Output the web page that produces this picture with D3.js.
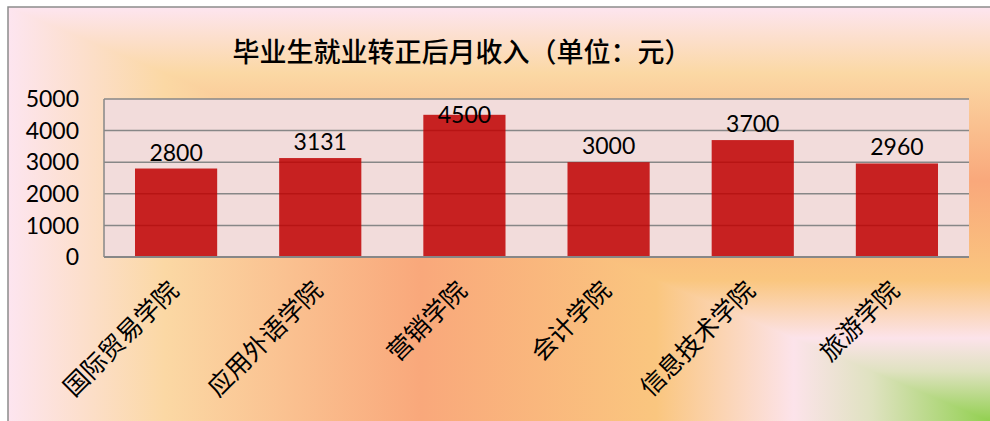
<!DOCTYPE html>
<html>
<head>
<meta charset="utf-8">
<script src="https://cdn.jsdelivr.net/npm/d3@7"></script>
<style>
  body { margin: 0; background: #fff; }
  svg { display: block; }
</style>
</head>
<body>
<svg id="chart" width="990" height="421"></svg>
<script>
// data
var title = "毕业生就业转正后月收入（单位：元）";
var colleges = ["国际贸易学院", "应用外语学院", "营销学院", "会计学院", "信息技术学院", "旅游学院"];
var income = [2800, 3131, 4500, 3000, 3700, 2960];
var yTicks = [0, 1000, 2000, 3000, 4000, 5000];

var width = 990, height = 421;
var svg = d3.select("#chart");
var defs = svg.append("defs");

// frame background: a "from corner" gradient, colour follows min(x/W, y/H)
var frame = { x: 8, y: 7, w: width - 8, h: height - 7 };
var stops = [
  [0, "#fde5f0"], [0.16, "#fbd8a4"], [0.42, "#f9a87b"], [0.66, "#fac67f"],
  [0.8, "#fce3ea"], [0.88, "#dfe2c0"], [1, "#92d050"]
];
function gradient(id, x2, y2) {
  var g = defs.append("linearGradient").attr("id", id)
    .attr("gradientUnits", "userSpaceOnUse")
    .attr("x1", frame.x).attr("y1", frame.y).attr("x2", x2).attr("y2", y2);
  stops.forEach(function (s) {
    g.append("stop").attr("offset", s[0]).attr("stop-color", s[1]);
  });
}
gradient("gx", frame.x + frame.w, frame.y);
gradient("gy", frame.x, frame.y + frame.h);

svg.append("rect").attr("x", frame.x).attr("y", frame.y)
  .attr("width", frame.w).attr("height", frame.h).attr("fill", "url(#gx)");
svg.append("polygon")
  .attr("points", [[frame.x, frame.y], [frame.x + frame.w, frame.y], [frame.x + frame.w, frame.y + frame.h]].join(" "))
  .attr("fill", "url(#gy)");

// frame border (top and left visible)
svg.append("path")
  .attr("d", "M" + frame.x + "," + height + "V" + frame.y + "H" + width)
  .attr("fill", "none").attr("stroke", "#8c8c8c").attr("stroke-width", 1.5);

// title
svg.append("text")
  .attr("x", 462).attr("y", 62)
  .attr("text-anchor", "middle")
  .style("font-family", "'Noto Sans CJK SC', sans-serif")
  .style("font-size", "27px").style("font-weight", 500)
  .attr("fill", "#000")
  .text(title);

// plot area
var plot = { left: 104, right: 969, top: 99, bottom: 257 };
var x = d3.scaleBand().domain(colleges).range([plot.left, plot.right])
  .paddingInner(0.43).paddingOuter(0.215);
var y = d3.scaleLinear().domain([0, 5000]).range([plot.bottom, plot.top]);

svg.append("rect").attr("x", plot.left).attr("y", plot.top)
  .attr("width", plot.right - plot.left).attr("height", plot.bottom - plot.top)
  .attr("fill", "#f2dcdb");

// gridlines
svg.append("g").selectAll("line").data(yTicks.slice(1)).enter().append("line")
  .attr("x1", plot.left).attr("x2", plot.right)
  .attr("y1", function (d) { return y(d); }).attr("y2", function (d) { return y(d); })
  .attr("stroke", "#878787").attr("stroke-width", 1.5);

// bars (slightly transparent, grid shows through)
svg.append("g").selectAll("rect").data(income).enter().append("rect")
  .attr("x", function (d, i) { return x(colleges[i]); })
  .attr("width", x.bandwidth())
  .attr("y", function (d) { return y(d); })
  .attr("height", function (d) { return y(0) - y(d); })
  .attr("fill", "#c00000").attr("fill-opacity", 0.85);

// axis lines
svg.append("line").attr("x1", plot.left).attr("x2", plot.left)
  .attr("y1", plot.top).attr("y2", plot.bottom)
  .attr("stroke", "#878787").attr("stroke-width", 1.5);
svg.append("line").attr("x1", plot.left).attr("x2", plot.right)
  .attr("y1", plot.bottom).attr("y2", plot.bottom)
  .attr("stroke", "#878787").attr("stroke-width", 2);

// y tick labels
svg.append("g").selectAll("text").data(yTicks).enter().append("text")
  .attr("x", 79).attr("y", function (d) { return y(d); })
  .attr("dy", "0.36em").attr("text-anchor", "end")
  .style("font-family", "Lato, 'Open Sans', sans-serif").style("font-size", "23px")
  .attr("fill", "#000")
  .text(function (d) { return d; });

// value labels, kept inside the plot area
svg.append("g").selectAll("text").data(income).enter().append("text")
  .attr("x", function (d, i) { return x(colleges[i]) + x.bandwidth() / 2; })
  .attr("y", function (d) { return Math.max(y(d) - 8, plot.top + 24); })
  .attr("text-anchor", "middle")
  .style("font-family", "Lato, 'Open Sans', sans-serif").style("font-size", "23px")
  .attr("fill", "#000")
  .text(function (d) { return d; });

// category labels rotated -45
svg.append("g").selectAll("text").data(colleges).enter().append("text")
  .attr("transform", function (d) {
    return "translate(" + (x(d) + x.bandwidth() / 2 + 4) + "," + 292 + ") rotate(-45)";
  })
  .attr("text-anchor", "end")
  .style("font-family", "'Noto Sans CJK SC', sans-serif").style("font-size", "25px")
  .attr("fill", "#000")
  .text(function (d) { return d; });
</script>
</body>
</html>
